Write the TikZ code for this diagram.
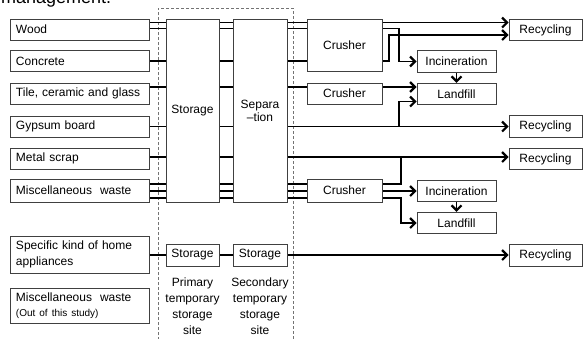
\documentclass[tikz,border=0pt]{standalone}
\usepackage{fontspec}
\setmainfont{Liberation Sans}
\usetikzlibrary{arrows.meta,backgrounds}
\begin{document}
\begin{tikzpicture}[x=1pt,y=-1pt,
  box/.style={draw=black!75, line width=0.8pt, fill=white, inner sep=0pt,
    font=\fontsize{12}{16}\selectfont},
  srcbox/.style={box, minimum width=139pt, text width=127pt, align=left},
  rbox/.style={box, minimum width=75pt},
  cbox/.style={box, minimum width=79pt, minimum height=21.5pt},
  recbox/.style={box, minimum width=73pt, minimum height=21.5pt},
  conn/.style={line width=1.9pt, black},
  arr/.style={conn, -{Straight Barb[length=5pt,width=10pt,line width=2.2pt]}},
  site/.style={draw=black!55, line width=0.8pt, dash pattern=on 3pt off 2pt},
  lab/.style={inner sep=0pt, align=center, font=\fontsize{12}{16}\selectfont}
]
\useasboundingbox (0,0) rectangle (583,338);
\clip (0,0) rectangle (583,338);

\node[anchor=base west, inner sep=0pt, font=\fontsize{18}{18}\selectfont] (title) at (1,3.5) {management.};

% source boxes
\node[srcbox, minimum height=21pt] (wood) at (79.5,29.5) {Wood};
\node[srcbox, minimum height=21.5pt] (conc) at (79.5,61) {Concrete};
\node[srcbox, minimum height=21pt] (tile) at (79.5,93.5) {Tile, ceramic and glass};
\node[srcbox, minimum height=21pt] (gyps) at (79.5,126.5) {Gypsum board};
\node[srcbox, minimum height=21pt] (metal) at (79.5,158.5) {Metal scrap};
\node[srcbox, minimum height=23pt] (misc) at (79.5,190.5) {Miscellaneous\ \ waste};
\node[srcbox, minimum height=37pt] (appl) at (79.5,254.5) {Specific kind of home\\appliances};
\node[srcbox, minimum height=35pt] (miscout) at (79.5,305.5) {Miscellaneous\ \ waste\\[-1pt]{\fontsize{10}{12}\selectfont(Out of this study)}};

% storage and separation
\node[box, minimum width=53pt, minimum height=183pt] (stor) at (192.5,110.5) {Storage};
\node[box, minimum width=54pt, minimum height=183pt, align=center,
  font=\fontsize{12}{13}\selectfont] (sep) at (260,110.5) {Separa\\–tion};
\node[box, minimum width=53pt, minimum height=22pt] (st1) at (192.5,255) {Storage};
\node[box, minimum width=54pt, minimum height=22pt] (st2) at (260,255) {Storage};
\node[lab] (lab1) at (192.5,306) {Primary\\temporary\\storage\\site};
\node[lab] (lab2) at (260,306) {Secondary\\temporary\\storage\\site};

% crushers
\node[rbox, minimum height=52pt] (cr1) at (344.5,45) {Crusher};
\node[rbox, minimum height=21pt] (cr2) at (344.5,93.5) {Crusher};
\node[rbox, minimum height=23pt] (cr3) at (344.5,190.5) {Crusher};

% incineration / landfill
\node[cbox] (inc1) at (456.5,61.5) {Incineration};
\node[cbox] (land1) at (456.5,94) {Landfill};
\node[cbox] (inc2) at (456.5,191) {Incineration};
\node[cbox] (land2) at (456.5,223) {Landfill};

% recycling
\node[recbox] (rec1) at (545.5,30) {Recycling};
\node[recbox] (rec2) at (545.5,126.5) {Recycling};
\node[recbox] (rec3) at (545.5,159) {Recycling};
\node[recbox] (rec4) at (545.5,255.5) {Recycling};

% row coordinates
\coordinate (yA) at (0,22.5);
\coordinate (yB) at (0,28.5);
\coordinate (yC) at (0,61);
\coordinate (yD) at (0,87);
\coordinate (yE) at (0,126.5);
\coordinate (yF) at (0,157);
\coordinate (yG1) at (0,184);
\coordinate (yG2) at (0,191);
\coordinate (yG3) at (0,198);
\coordinate (yH) at (0,255);
\coordinate (yR) at (0,35);
\coordinate (yL) at (0,101.5);
\coordinate (xP) at (389,0);
\coordinate (xQ) at (399,0);
\coordinate (xR) at (401,0);

\begin{scope}[on background layer]
\draw[site] (158,345) -- (158,8) -- (293,8) -- (293,345);

% sources -> storage -> separation
\foreach \src/\row in {wood/yA, wood/yB, conc/yC, tile/yD, gyps/yE, metal/yF, misc/yG1, misc/yG2, misc/yG3} {
  \draw[conn] (\src.east |- \row) -- (stor.west |- \row);
  \draw[conn] (stor.east |- \row) -- (sep.west |- \row);
}
% separation -> next
\draw[arr] (sep.east |- yA) -- (rec1.west |- yA);
\draw[conn] (sep.east |- yB) -- (cr1.west |- yB);
\draw[conn] (sep.east |- yC) -- (cr1.west |- yC);
\draw[conn] (sep.east |- yD) -- (cr2.west |- yD);
\draw[arr] (sep.east |- yE) -- (rec2.west |- yE);
\draw[arr] (sep.east |- yF) -- (rec3.west |- yF);
\foreach \row in {yG1, yG2, yG3} {
  \draw[conn] (sep.east |- \row) -- (cr3.west |- \row);
}

% crusher 1 outputs
\draw[arr] (cr1.east |- yB) -- (xQ |- yB) -- (xQ |- inc1.west) -- (inc1.west);
\draw[arr] (cr1.east |- yC) -- (xP |- yC) -- (xP |- yR) -- (rec1.west |- yR);
% crusher 2
\draw[arr] (cr2.east |- yD) -- (land1.west |- yD);
\draw[arr] (inc1.south) -- (land1.north);
% gypsum branch to landfill
\draw[arr] (xQ |- yE) -- (xQ |- yL) -- (land1.west |- yL);
% crusher 3 outputs
\draw[conn] (cr3.east |- yG1) -- (xR |- yG1) -- (xR |- yF);
\draw[arr] (cr3.east |- yG2) -- (inc2.west |- yG2);
\draw[arr] (cr3.east |- yG3) -- (xR |- yG3) -- (xR |- land2.west) -- (land2.west);
\draw[arr] (inc2.south) -- (land2.north);

% home appliances
\draw[conn] (appl.east |- yH) -- (st1.west |- yH);
\draw[conn] (st1.east |- yH) -- (st2.west |- yH);
\draw[arr] (st2.east |- yH) -- (rec4.west |- yH);
\end{scope}
\end{tikzpicture}
\end{document}
